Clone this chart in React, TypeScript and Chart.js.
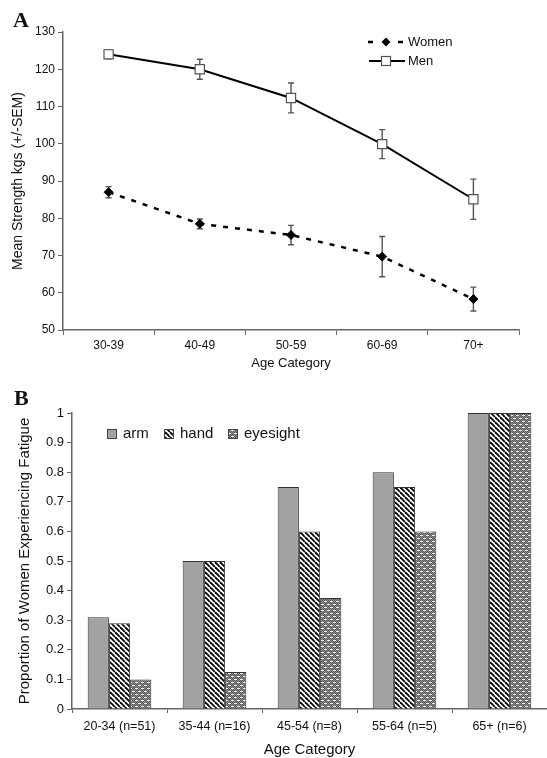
import React, { useEffect, useRef } from "react";
import { Chart, registerables } from "chart.js";

Chart.register(...registerables);

// Panel A: grip strength by age group
const ageGroupsA = ["30-39", "40-49", "50-59", "60-69", "70+"];
const womenStrength = [87, 78.5, 75.5, 69.7, 58.3];
const womenSem = [1.5, 1.3, 2.6, 5.4, 3.2];
const menStrength = [124, 120, 112.3, 99.9, 85.1];
const menSem = [1.2, 2.7, 4.0, 3.9, 5.4];

// Panel B: proportion of women reporting fatigue
const ageGroupsB = ["20-34 (n=51)", "35-44 (n=16)", "45-54 (n=8)", "55-64 (n=5)", "65+ (n=6)"];
const armFatigue = [0.31, 0.5, 0.75, 0.8, 1];
const handFatigue = [0.29, 0.5, 0.6, 0.75, 1];
const eyesightFatigue = [0.1, 0.125, 0.375, 0.6, 1];

const FONT = "'Liberation Sans', Arial, Helvetica, sans-serif";
const SERIF = "'Liberation Serif', 'Times New Roman', serif";
const TEXT = "#111111";
const AXIS = "#666666";
const ARM_GRAY = "#a2a2a2";

function stripeTile(): HTMLCanvasElement {
  const c = document.createElement("canvas");
  c.width = 5;
  c.height = 5;
  const g = c.getContext("2d")!;
  g.fillStyle = "#ffffff";
  g.fillRect(0, 0, 5, 5);
  g.strokeStyle = "#0a0a0a";
  g.lineWidth = 1.9;
  for (const o of [-5, 0, 5]) {
    g.beginPath();
    g.moveTo(o, 0);
    g.lineTo(o + 5, 5);
    g.stroke();
  }
  return c;
}

function brickTile(): HTMLCanvasElement {
  const c = document.createElement("canvas");
  c.width = 6;
  c.height = 6;
  const g = c.getContext("2d")!;
  g.fillStyle = "#8e8e8e";
  g.fillRect(0, 0, 6, 6);
  g.fillStyle = "#5a5a5a";
  for (let x = 0; x < 6; x++) {
    for (let y = 0; y < 6; y++) {
      if ((x + y) % 2 === 0) g.fillRect(x, y, 1, 1);
    }
  }
  g.fillStyle = "#f4f4f4";
  g.fillRect(0, 1, 3, 1);
  g.fillRect(3, 4, 3, 1);
  return c;
}

// vertical +/- SEM whiskers for datasets that carry an `errors` array
const errorBars = {
  id: "errorBars",
  beforeDatasetsDraw(chart: any) {
    const { ctx } = chart;
    const yScale = chart.scales.y;
    chart.data.datasets.forEach((ds: any, di: number) => {
      if (!ds.errors) return;
      const meta = chart.getDatasetMeta(di);
      meta.data.forEach((pt: any, i: number) => {
        const v = ds.data[i];
        const e = ds.errors[i];
        const yt = yScale.getPixelForValue(v + e);
        const yb = yScale.getPixelForValue(v - e);
        ctx.save();
        ctx.strokeStyle = "#555";
        ctx.lineWidth = 1.4;
        ctx.beginPath();
        ctx.moveTo(pt.x, yt);
        ctx.lineTo(pt.x, yb);
        ctx.moveTo(pt.x - 3, yt);
        ctx.lineTo(pt.x + 3, yt);
        ctx.moveTo(pt.x - 3, yb);
        ctx.lineTo(pt.x + 3, yb);
        ctx.stroke();
        ctx.restore();
      });
    });
  },
};

const decorA = {
  id: "decorA",
  afterDraw(chart: any) {
    const ctx = chart.ctx as CanvasRenderingContext2D;
    ctx.save();
    // panel letter
    ctx.fillStyle = "#111";
    ctx.font = `bold 22px ${SERIF}`;
    ctx.textBaseline = "alphabetic";
    ctx.fillText("A", 13, 27);

    // legend: Women
    ctx.strokeStyle = "#000";
    ctx.lineWidth = 2.5;
    ctx.beginPath();
    ctx.moveTo(368, 42);
    ctx.lineTo(373, 42);
    ctx.moveTo(398, 42);
    ctx.lineTo(403, 42);
    ctx.stroke();
    ctx.fillStyle = "#000";
    ctx.beginPath();
    ctx.moveTo(386, 37.5);
    ctx.lineTo(390.5, 42);
    ctx.lineTo(386, 46.5);
    ctx.lineTo(381.5, 42);
    ctx.closePath();
    ctx.fill();

    // legend: Men
    ctx.lineWidth = 2;
    ctx.beginPath();
    ctx.moveTo(369, 61);
    ctx.lineTo(405, 61);
    ctx.stroke();
    ctx.fillStyle = "#fff";
    ctx.strokeStyle = "#555";
    ctx.lineWidth = 1.2;
    ctx.fillRect(381.5, 56.5, 9, 9);
    ctx.strokeRect(381.5, 56.5, 9, 9);

    ctx.fillStyle = TEXT;
    ctx.font = `13px ${FONT}`;
    ctx.textBaseline = "middle";
    ctx.fillText("Women", 408, 42);
    ctx.fillText("Men", 408, 61);
    ctx.restore();
  },
};

function makeDecorB(stripes: CanvasPattern, bricks: CanvasPattern) {
  return {
    id: "decorB",
    afterDraw(chart: any) {
      const ctx = chart.ctx as CanvasRenderingContext2D;
      ctx.save();
      ctx.fillStyle = "#111";
      ctx.font = `bold 22px ${SERIF}`;
      ctx.textBaseline = "alphabetic";
      ctx.fillText("B", 14, 33);

      const items: [string, string | CanvasPattern, number][] = [
        ["arm", ARM_GRAY, 107],
        ["hand", stripes, 164],
        ["eyesight", bricks, 228],
      ];
      ctx.font = `15px ${FONT}`;
      ctx.textBaseline = "middle";
      for (const [label, fill, x] of items) {
        ctx.fillStyle = fill as any;
        ctx.fillRect(x, 57, 10, 10);
        ctx.strokeStyle = "#444";
        ctx.lineWidth = 1;
        ctx.strokeRect(x + 0.5, 57.5, 9, 9);
        ctx.fillStyle = TEXT;
        ctx.fillText(label, x + 16, 62);
      }
      ctx.restore();
    },
  };
}

export default function App() {
  const refA = useRef<HTMLCanvasElement>(null);
  const refB = useRef<HTMLCanvasElement>(null);

  useEffect(() => {
    const ctxA = refA.current!.getContext("2d")!;
    const chartA = new Chart(ctxA, {
      type: "line",
      data: {
        labels: ageGroupsA,
        datasets: [
          {
            label: "Women",
            data: womenStrength,
            errors: womenSem,
            borderColor: "#000",
            borderWidth: 2.5,
            borderDash: [5, 7],
            pointStyle: "rectRot",
            pointRadius: 4.5,
            pointBackgroundColor: "#000",
            pointBorderColor: "#000",
            pointBorderWidth: 1,
            tension: 0,
          } as any,
          {
            label: "Men",
            data: menStrength,
            errors: menSem,
            borderColor: "#000",
            borderWidth: 2,
            pointStyle: "rect",
            pointRadius: 6.5,
            pointBackgroundColor: "#fff",
            pointBorderColor: "#555",
            pointBorderWidth: 1.2,
            tension: 0,
          } as any,
        ],
      },
      options: {
        responsive: false,
        animation: false,
        devicePixelRatio: 1,
        layout: { padding: { left: 0, right: 28, top: 32, bottom: 0 } },
        plugins: { legend: { display: false }, tooltip: { enabled: false } },
        scales: {
          x: {
            offset: true,
            grid: { offset: true, drawOnChartArea: false, tickLength: 5, color: AXIS },
            border: { color: AXIS, width: 1.5 },
            ticks: { color: TEXT, font: { family: FONT, size: 12 }, padding: 3 },
            title: {
              display: true,
              text: "Age Category",
              color: TEXT,
              font: { family: FONT, size: 13 },
              padding: { top: 0, bottom: 1 },
            },
            afterFit: (s: any) => {
              s.height = 42;
            },
          },
          y: {
            min: 50,
            max: 130,
            ticks: { stepSize: 10, color: TEXT, font: { family: FONT, size: 12 }, padding: 3 },
            grid: { drawOnChartArea: false, tickLength: 5, color: AXIS },
            border: { color: AXIS, width: 1.5 },
            title: {
              display: true,
              text: "Mean Strength kgs (+/-SEM)",
              color: TEXT,
              font: { family: FONT, size: 14 },
              padding: { top: 10, bottom: 0 },
            },
            afterFit: (s: any) => {
              s.width = 63;
            },
          },
        },
      } as any,
      plugins: [errorBars, decorA],
    });

    const ctxB = refB.current!.getContext("2d")!;
    const stripes = ctxB.createPattern(stripeTile(), "repeat")!;
    const bricks = ctxB.createPattern(brickTile(), "repeat")!;
    const barStyle = { borderColor: "#333", borderWidth: 1, borderSkipped: "bottom" as const };
    const chartB = new Chart(ctxB, {
      type: "bar",
      data: {
        labels: ageGroupsB,
        datasets: [
          { label: "arm", data: armFatigue, backgroundColor: ARM_GRAY, ...barStyle },
          { label: "hand", data: handFatigue, backgroundColor: stripes as any, ...barStyle },
          { label: "eyesight", data: eyesightFatigue, backgroundColor: bricks as any, ...barStyle },
        ],
      },
      options: {
        responsive: false,
        animation: false,
        devicePixelRatio: 1,
        layout: { padding: { left: 0, right: 0, top: 41, bottom: 0 } },
        datasets: { bar: { categoryPercentage: 0.67, barPercentage: 1 } },
        plugins: { legend: { display: false }, tooltip: { enabled: false } },
        scales: {
          x: {
            grid: { offset: true, drawOnChartArea: false, tickLength: 4, color: AXIS },
            border: { color: AXIS, width: 1.5 },
            ticks: { color: TEXT, font: { family: FONT, size: 12.5 }, padding: 6 },
            title: {
              display: true,
              text: "Age Category",
              color: TEXT,
              font: { family: FONT, size: 15, lineHeight: 1.1 },
              padding: { top: 0, bottom: 0 },
            },
            afterFit: (s: any) => {
              s.height = 49;
            },
          },
          y: {
            min: 0,
            max: 1,
            ticks: {
              stepSize: 0.1,
              color: TEXT,
              font: { family: FONT, size: 13 },
              padding: 3,
              callback: (v: any) => String(Number(Number(v).toFixed(1))),
            },
            grid: { drawOnChartArea: false, tickLength: 5, color: AXIS },
            border: { color: AXIS, width: 1.5 },
            title: {
              display: true,
              text: "Proportion of Women Experiencing Fatigue",
              color: TEXT,
              font: { family: FONT, size: 15 },
              padding: { top: 16, bottom: 0 },
            },
            afterFit: (s: any) => {
              s.width = 72;
            },
          },
        },
      } as any,
      plugins: [makeDecorB(stripes, bricks)],
    });

    return () => {
      chartA.destroy();
      chartB.destroy();
    };
  }, []);

  return (
    <div style={{ position: "absolute", left: 0, top: 0, width: 547, height: 758, background: "#fff" }}>
      <canvas ref={refA} width={547} height={372} style={{ display: "block", width: 547, height: 372 }} />
      <canvas ref={refB} width={547} height={386} style={{ display: "block", width: 547, height: 386 }} />
    </div>
  );
}
